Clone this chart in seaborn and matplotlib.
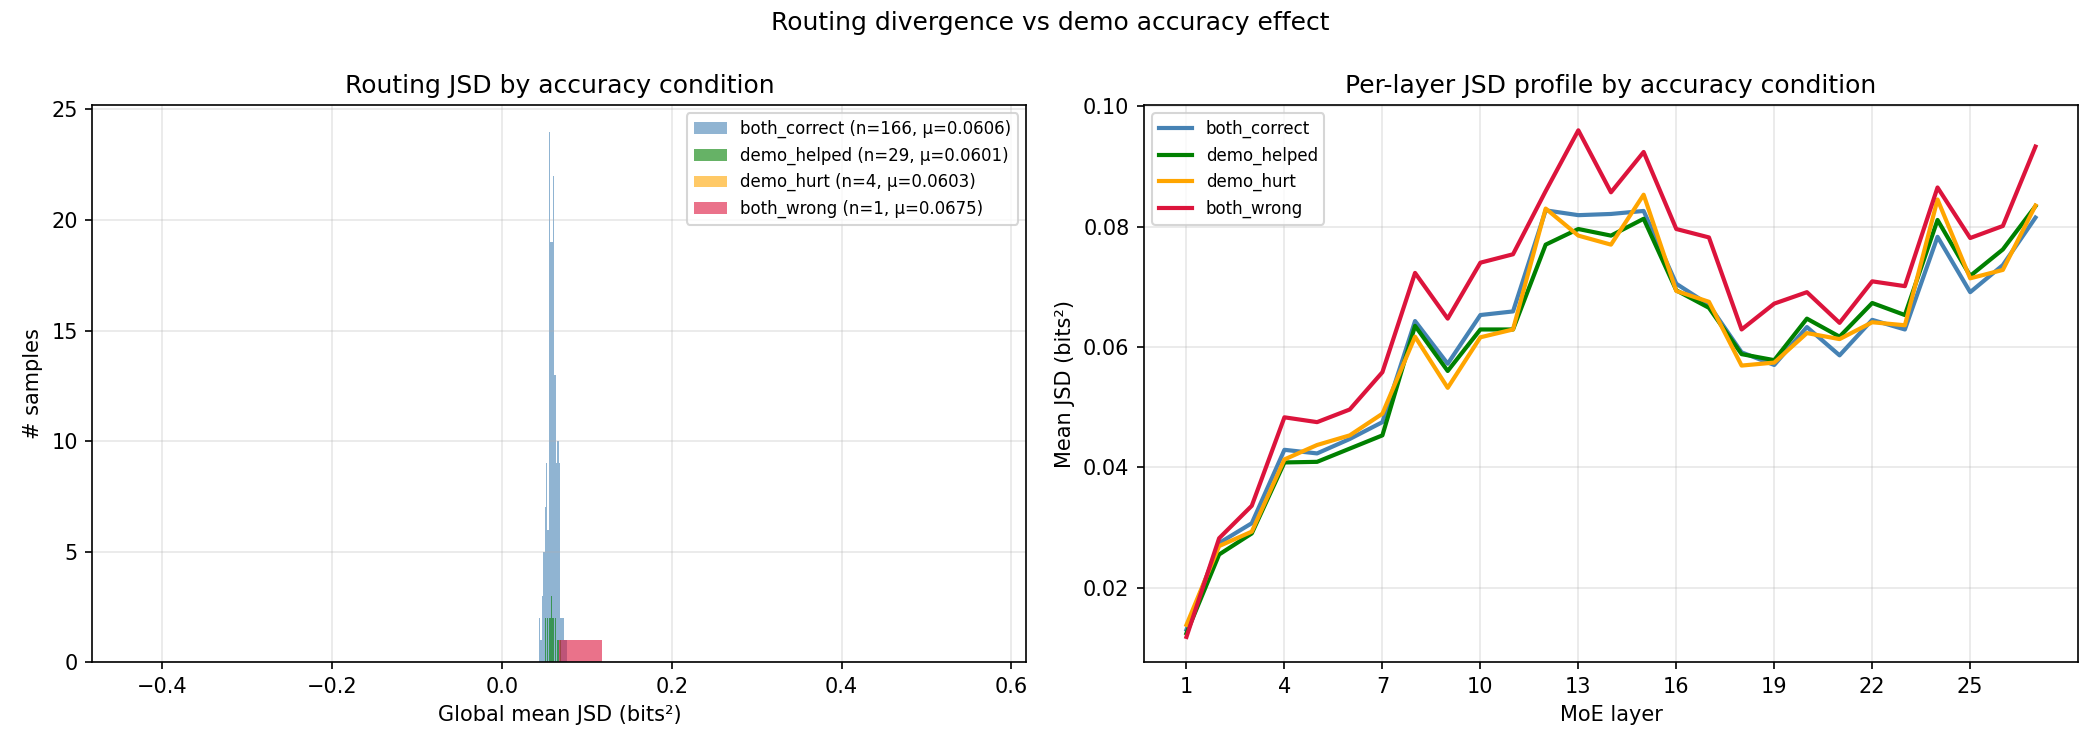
import matplotlib
matplotlib.use("Agg")
import matplotlib.pyplot as plt
import numpy as np
import pandas as pd
import seaborn as sb
from matplotlib.patches import Patch


# conditii si culori
conditii = ["both_correct", "demo_helped", "demo_hurt", "both_wrong"]
culori = ["steelblue", "green", "orange", "crimson"]
medii_raportate = [0.0606, 0.0601, 0.0603, 0.0675]

# histograma - both_correct (20 bini intre min si max)
bc_range = (0.0434, 0.0767)
bc_counts = [2, 1, 3, 5, 7, 9, 6, 24, 19, 19, 22, 13, 9, 10, 9, 2, 2, 2, 1, 1]

# histograma - demo_helped
dh_range = (0.0505, 0.0694)
dh_counts = [2, 0, 2, 2, 0, 2, 2, 4, 3, 2, 2, 0, 2, 2, 0, 1, 1, 1, 0, 1]

# valori individuale - demo_hurt si both_wrong
hurt_vals = [0.0591, 0.0596, 0.0608, 0.0617]
wrong_vals = [0.0675]

# profil JSD pe straturi
layers = list(range(1, 28))
jsd_both_correct = [0.0130, 0.0274, 0.0307, 0.0429, 0.0423, 0.0447, 0.0475, 0.0643, 0.0572,
                    0.0653, 0.0659, 0.0827, 0.0819, 0.0821, 0.0826, 0.0705, 0.0670, 0.0591,
                    0.0570, 0.0633, 0.0586, 0.0645, 0.0629, 0.0783, 0.0691, 0.0736, 0.0815]
jsd_demo_helped = [0.0124, 0.0255, 0.0290, 0.0408, 0.0409, 0.0431, 0.0453, 0.0635, 0.0560,
                   0.0629, 0.0629, 0.0770, 0.0796, 0.0785, 0.0813, 0.0694, 0.0665, 0.0588,
                   0.0578, 0.0647, 0.0617, 0.0673, 0.0653, 0.0811, 0.0718, 0.0762, 0.0834]
jsd_demo_hurt = [0.0138, 0.0269, 0.0293, 0.0413, 0.0437, 0.0453, 0.0489, 0.0617, 0.0532,
                 0.0616, 0.0629, 0.0830, 0.0785, 0.0770, 0.0853, 0.0693, 0.0675, 0.0569,
                 0.0574, 0.0623, 0.0613, 0.0641, 0.0636, 0.0845, 0.0714, 0.0728, 0.0835]
jsd_both_wrong = [0.0118, 0.0282, 0.0336, 0.0483, 0.0475, 0.0496, 0.0558, 0.0723, 0.0647,
                  0.0740, 0.0754, 0.0859, 0.0960, 0.0857, 0.0924, 0.0796, 0.0782, 0.0629,
                  0.0672, 0.0691, 0.0640, 0.0709, 0.0701, 0.0865, 0.0781, 0.0801, 0.0933]


def centre_bini(rng, n):
    w = (rng[1] - rng[0]) / n
    return rng[0] + (np.arange(n) + 0.5) * w


fig, axes = plt.subplots(1, 2, figsize=(14, 5), dpi=150)
fig.subplots_adjust(left=0.044, right=0.9895, bottom=0.117, top=0.86, wspace=0.126)
fig.suptitle("Routing divergence vs demo accuracy effect", fontsize=12, y=0.985)

# HISTOGRAMA
ax = axes[0]
hist_kw = dict(alpha=0.6, linewidth=0, edgecolor="none", ax=ax, stat="count")
sb.histplot(x=centre_bini(bc_range, 20), weights=bc_counts, bins=20, binrange=bc_range,
            color=culori[0], **hist_kw)
sb.histplot(x=centre_bini(dh_range, 20), weights=dh_counts, bins=20, binrange=dh_range,
            color=culori[1], **hist_kw)
sb.histplot(x=hurt_vals, bins=20, color=culori[2], **hist_kw)
sb.histplot(x=wrong_vals, bins=20, color=culori[3], **hist_kw)

nr = [sum(bc_counts), sum(dh_counts), len(hurt_vals), len(wrong_vals)]
handles = [Patch(facecolor=c, alpha=0.6, label=f"{k} (n={n}, μ={m:.4f})")
           for k, c, n, m in zip(conditii, culori, nr, medii_raportate)]
ax.legend(handles=handles, loc="upper right", fontsize=8)
ax.set_title("Routing JSD by accuracy condition", fontsize=12)
ax.set_xlabel("Global mean JSD (bits²)")
ax.set_ylabel("# samples")
ax.grid(True, alpha=0.3)

# PROFIL PE STRATURI
ax = axes[1]
df_prof = pd.DataFrame({"layer": layers * 4,
                        "jsd": jsd_both_correct + jsd_demo_helped + jsd_demo_hurt + jsd_both_wrong,
                        "cond": sum([[c] * len(layers) for c in conditii], [])})
sb.lineplot(data=df_prof, x="layer", y="jsd", hue="cond", hue_order=conditii,
            palette=culori, linewidth=2, ax=ax)
ax.legend(loc="upper left", fontsize=8)
ax.set_xticks(layers[::3])
ax.set_title("Per-layer JSD profile by accuracy condition", fontsize=12)
ax.set_xlabel("MoE layer")
ax.set_ylabel("Mean JSD (bits²)")
ax.grid(True, alpha=0.3)

fig.savefig("out.png", dpi=150)
